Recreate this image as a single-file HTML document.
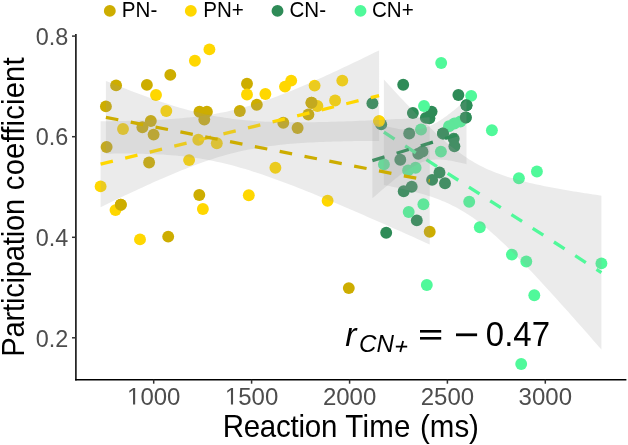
<!DOCTYPE html>
<html><head><meta charset="utf-8"><style>
html,body{margin:0;padding:0;background:#fff;}
body{width:628px;height:445px;overflow:hidden;position:relative;}
svg{position:absolute;left:0;top:0;will-change:transform;}
text{font-family:"Liberation Sans",sans-serif;}
</style></head><body>
<svg width="628" height="445" viewBox="0 0 628 445">
<rect width="628" height="445" fill="#fff"/>
<g>
<circle cx="116.1" cy="85.4" r="5.95" fill="#CDAD00"/>
<circle cx="146.9" cy="84.9" r="5.95" fill="#CDAD00"/>
<circle cx="170.3" cy="74.9" r="5.95" fill="#CDAD00"/>
<circle cx="105.9" cy="106.4" r="5.95" fill="#CDAD00"/>
<circle cx="199.5" cy="111.7" r="5.95" fill="#CDAD00"/>
<circle cx="206.9" cy="111.7" r="5.95" fill="#CDAD00"/>
<circle cx="204.3" cy="119.6" r="5.95" fill="#CDAD00"/>
<circle cx="150.8" cy="121.0" r="5.95" fill="#CDAD00"/>
<circle cx="142.4" cy="127.2" r="5.95" fill="#CDAD00"/>
<circle cx="153.6" cy="134.6" r="5.95" fill="#CDAD00"/>
<circle cx="106.6" cy="147.0" r="5.95" fill="#CDAD00"/>
<circle cx="149.1" cy="162.5" r="5.95" fill="#CDAD00"/>
<circle cx="199.3" cy="195.0" r="5.95" fill="#CDAD00"/>
<circle cx="120.8" cy="204.7" r="5.95" fill="#CDAD00"/>
<circle cx="168.2" cy="236.6" r="5.95" fill="#CDAD00"/>
<circle cx="247.0" cy="83.7" r="5.95" fill="#CDAD00"/>
<circle cx="239.8" cy="111.0" r="5.95" fill="#CDAD00"/>
<circle cx="256.8" cy="104.8" r="5.95" fill="#CDAD00"/>
<circle cx="311.5" cy="102.8" r="5.95" fill="#CDAD00"/>
<circle cx="308.4" cy="114.5" r="5.95" fill="#CDAD00"/>
<circle cx="283.3" cy="122.7" r="5.95" fill="#CDAD00"/>
<circle cx="297.6" cy="128.0" r="5.95" fill="#CDAD00"/>
<circle cx="348.8" cy="288.1" r="5.95" fill="#CDAD00"/>
<circle cx="429.7" cy="231.8" r="5.95" fill="#CDAD00"/>
<circle cx="209.4" cy="49.4" r="5.95" fill="#FFD700"/>
<circle cx="194.9" cy="60.8" r="5.95" fill="#FFD700"/>
<circle cx="156.0" cy="95.0" r="5.95" fill="#FFD700"/>
<circle cx="166.3" cy="111.0" r="5.95" fill="#FFD700"/>
<circle cx="123.0" cy="129.0" r="5.95" fill="#FFD700"/>
<circle cx="198.3" cy="139.8" r="5.95" fill="#FFD700"/>
<circle cx="216.8" cy="143.2" r="5.95" fill="#FFD700"/>
<circle cx="189.1" cy="160.1" r="5.95" fill="#FFD700"/>
<circle cx="100.6" cy="186.4" r="5.95" fill="#FFD700"/>
<circle cx="115.5" cy="210.1" r="5.95" fill="#FFD700"/>
<circle cx="202.9" cy="209.0" r="5.95" fill="#FFD700"/>
<circle cx="140.0" cy="239.4" r="5.95" fill="#FFD700"/>
<circle cx="247.0" cy="94.5" r="5.95" fill="#FFD700"/>
<circle cx="265.4" cy="94.0" r="5.95" fill="#FFD700"/>
<circle cx="291.2" cy="80.6" r="5.95" fill="#FFD700"/>
<circle cx="285.0" cy="86.6" r="5.95" fill="#FFD700"/>
<circle cx="314.6" cy="85.6" r="5.95" fill="#FFD700"/>
<circle cx="342.3" cy="80.6" r="5.95" fill="#FFD700"/>
<circle cx="317.4" cy="106.0" r="5.95" fill="#FFD700"/>
<circle cx="335.1" cy="100.5" r="5.95" fill="#FFD700"/>
<circle cx="275.4" cy="167.8" r="5.95" fill="#FFD700"/>
<circle cx="248.8" cy="195.3" r="5.95" fill="#FFD700"/>
<circle cx="327.6" cy="200.8" r="5.95" fill="#FFD700"/>
<circle cx="379.1" cy="121.1" r="5.95" fill="#FFD700"/>
<circle cx="403.2" cy="84.7" r="5.95" fill="#2E8B57"/>
<circle cx="458.4" cy="95.0" r="5.95" fill="#2E8B57"/>
<circle cx="372.4" cy="103.3" r="5.95" fill="#2E8B57"/>
<circle cx="466.5" cy="105.3" r="5.95" fill="#2E8B57"/>
<circle cx="412.9" cy="113.0" r="5.95" fill="#2E8B57"/>
<circle cx="425.8" cy="117.9" r="5.95" fill="#2E8B57"/>
<circle cx="429.4" cy="118.2" r="5.95" fill="#2E8B57"/>
<circle cx="431.6" cy="111.6" r="5.95" fill="#2E8B57"/>
<circle cx="465.8" cy="117.5" r="5.95" fill="#2E8B57"/>
<circle cx="381.2" cy="124.4" r="5.95" fill="#2E8B57"/>
<circle cx="409.2" cy="133.5" r="5.95" fill="#2E8B57"/>
<circle cx="443.0" cy="133.5" r="5.95" fill="#2E8B57"/>
<circle cx="453.7" cy="138.8" r="5.95" fill="#2E8B57"/>
<circle cx="454.4" cy="146.2" r="5.95" fill="#2E8B57"/>
<circle cx="422.5" cy="151.5" r="5.95" fill="#2E8B57"/>
<circle cx="418.3" cy="153.8" r="5.95" fill="#2E8B57"/>
<circle cx="400.3" cy="159.7" r="5.95" fill="#2E8B57"/>
<circle cx="439.5" cy="172.5" r="5.95" fill="#2E8B57"/>
<circle cx="432.1" cy="179.9" r="5.95" fill="#2E8B57"/>
<circle cx="445.0" cy="183.3" r="5.95" fill="#2E8B57"/>
<circle cx="411.7" cy="186.8" r="5.95" fill="#2E8B57"/>
<circle cx="403.7" cy="191.2" r="5.95" fill="#2E8B57"/>
<circle cx="416.8" cy="220.4" r="5.95" fill="#2E8B57"/>
<circle cx="386.2" cy="232.7" r="5.95" fill="#2E8B57"/>
<circle cx="441.2" cy="63.0" r="5.95" fill="#50F99A"/>
<circle cx="471.2" cy="95.9" r="5.95" fill="#50F99A"/>
<circle cx="424.0" cy="106.0" r="5.95" fill="#50F99A"/>
<circle cx="460.4" cy="121.5" r="5.95" fill="#50F99A"/>
<circle cx="454.4" cy="123.5" r="5.95" fill="#50F99A"/>
<circle cx="449.0" cy="126.2" r="5.95" fill="#50F99A"/>
<circle cx="421.0" cy="129.5" r="5.95" fill="#50F99A"/>
<circle cx="491.9" cy="130.3" r="5.95" fill="#50F99A"/>
<circle cx="440.9" cy="151.6" r="5.95" fill="#50F99A"/>
<circle cx="383.9" cy="164.4" r="5.95" fill="#50F99A"/>
<circle cx="415.6" cy="167.8" r="5.95" fill="#50F99A"/>
<circle cx="408.1" cy="170.4" r="5.95" fill="#50F99A"/>
<circle cx="536.9" cy="171.5" r="5.95" fill="#50F99A"/>
<circle cx="518.9" cy="178.2" r="5.95" fill="#50F99A"/>
<circle cx="469.2" cy="201.8" r="5.95" fill="#50F99A"/>
<circle cx="423.4" cy="204.3" r="5.95" fill="#50F99A"/>
<circle cx="408.7" cy="212.0" r="5.95" fill="#50F99A"/>
<circle cx="479.8" cy="227.2" r="5.95" fill="#50F99A"/>
<circle cx="511.9" cy="254.6" r="5.95" fill="#50F99A"/>
<circle cx="526.3" cy="261.5" r="5.95" fill="#50F99A"/>
<circle cx="601.4" cy="263.4" r="5.95" fill="#50F99A"/>
<circle cx="534.3" cy="295.3" r="5.95" fill="#50F99A"/>
<circle cx="521.2" cy="364.0" r="5.95" fill="#50F99A"/>
<circle cx="426.8" cy="285.0" r="5.95" fill="#50F99A"/>
<circle cx="120.8" cy="204.7" r="5.95" fill="#CDAD00"/>
<circle cx="311.5" cy="102.8" r="5.95" fill="#CDAD00"/>
<circle cx="379.1" cy="121.1" r="5.95" fill="#FFD700"/>
<circle cx="466.5" cy="105.3" r="5.95" fill="#2E8B57"/>
<circle cx="465.8" cy="117.5" r="5.95" fill="#2E8B57"/>
<circle cx="443.0" cy="133.5" r="5.95" fill="#2E8B57"/>
</g>
<g>
<polygon points="383.90,79.45 386.65,82.48 389.41,85.49 392.16,88.48 394.91,91.47 397.67,94.43 400.42,97.38 403.17,100.32 405.93,103.23 408.68,106.12 411.43,108.99 414.18,111.84 416.94,114.65 419.69,117.44 422.44,120.20 425.20,122.93 427.95,125.61 430.70,128.26 433.46,130.87 436.21,133.43 438.96,135.94 441.72,138.40 444.47,140.80 447.22,143.14 449.98,145.42 452.73,147.64 455.48,149.78 458.24,151.85 460.99,153.85 463.74,155.77 466.49,157.62 469.25,159.39 472.00,161.08 474.75,162.69 477.51,164.23 480.26,165.69 483.01,167.08 485.77,168.40 488.52,169.66 491.27,170.86 494.03,171.99 496.78,173.08 499.53,174.11 502.29,175.09 505.04,176.02 507.79,176.92 510.55,177.78 513.30,178.60 516.05,179.39 518.81,180.14 521.56,180.87 524.31,181.58 527.06,182.25 529.82,182.91 532.57,183.55 535.32,184.16 538.08,184.76 540.83,185.35 543.58,185.91 546.34,186.47 549.09,187.01 551.84,187.54 554.60,188.06 557.35,188.56 560.10,189.06 562.86,189.55 565.61,190.03 568.36,190.50 571.12,190.96 573.87,191.42 576.62,191.87 579.37,192.31 582.13,192.75 584.88,193.18 587.63,193.61 590.39,194.03 593.14,194.45 595.89,194.86 598.65,195.27 601.40,195.67 601.40,349.58 598.65,346.43 595.89,343.28 593.14,340.14 590.39,337.00 587.63,333.87 584.88,330.74 582.13,327.62 579.37,324.51 576.62,321.39 573.87,318.29 571.12,315.19 568.36,312.10 565.61,309.02 562.86,305.94 560.10,302.88 557.35,299.82 554.60,296.77 551.84,293.73 549.09,290.71 546.34,287.70 543.58,284.70 540.83,281.71 538.08,278.74 535.32,275.78 532.57,272.85 529.82,269.93 527.06,267.03 524.31,264.15 521.56,261.30 518.81,258.48 516.05,255.68 513.30,252.92 510.55,250.18 507.79,247.48 505.04,244.83 502.29,242.21 499.53,239.64 496.78,237.11 494.03,234.64 491.27,232.22 488.52,229.86 485.77,227.57 483.01,225.33 480.26,223.17 477.51,221.08 474.75,219.06 472.00,217.12 469.25,215.26 466.49,213.47 463.74,211.76 460.99,210.13 458.24,208.57 455.48,207.09 452.73,205.68 449.98,204.34 447.22,203.07 444.47,201.85 441.72,200.70 438.96,199.61 436.21,198.56 433.46,197.57 430.70,196.62 427.95,195.72 425.20,194.85 422.44,194.02 419.69,193.22 416.94,192.46 414.18,191.72 411.43,191.01 408.68,190.33 405.93,189.66 403.17,189.02 400.42,188.40 397.67,187.80 394.91,187.21 392.16,186.64 389.41,186.08 386.65,185.54 383.90,185.01" fill="#999999" fill-opacity="0.2"/>
<line x1="383.90" y1="132.23" x2="601.40" y2="272.63" stroke="#50F99A" stroke-width="3.3" stroke-dasharray="12.65 12.65" stroke-linecap="butt"/>
<polygon points="372.40,122.80 373.59,123.14 374.78,123.47 375.97,123.79 377.16,124.12 378.36,124.44 379.55,124.75 380.74,125.06 381.93,125.37 383.12,125.67 384.31,125.97 385.50,126.26 386.69,126.54 387.88,126.82 389.08,127.09 390.27,127.35 391.46,127.61 392.65,127.86 393.84,128.09 395.03,128.32 396.22,128.54 397.41,128.75 398.61,128.94 399.80,129.13 400.99,129.30 402.18,129.45 403.37,129.59 404.56,129.71 405.75,129.82 406.94,129.90 408.13,129.97 409.33,130.01 410.52,130.03 411.71,130.02 412.90,129.99 414.09,129.93 415.28,129.85 416.47,129.73 417.66,129.58 418.85,129.39 420.05,129.18 421.24,128.93 422.43,128.64 423.62,128.32 424.81,127.96 426.00,127.56 427.19,127.13 428.38,126.66 429.57,126.16 430.77,125.62 431.96,125.05 433.15,124.45 434.34,123.82 435.53,123.16 436.72,122.47 437.91,121.76 439.10,121.02 440.29,120.25 441.49,119.47 442.68,118.66 443.87,117.84 445.06,116.99 446.25,116.13 447.44,115.25 448.63,114.36 449.82,113.46 451.02,112.54 452.21,111.61 453.40,110.67 454.59,109.72 455.78,108.75 456.97,107.78 458.16,106.80 459.35,105.82 460.54,104.82 461.74,103.82 462.93,102.81 464.12,101.80 465.31,100.78 466.50,99.76 466.50,164.14 465.31,163.84 464.12,163.54 462.93,163.25 461.74,162.97 460.54,162.69 459.35,162.42 458.16,162.16 456.97,161.91 455.78,161.66 454.59,161.42 453.40,161.20 452.21,160.98 451.02,160.77 449.82,160.58 448.63,160.40 447.44,160.23 446.25,160.08 445.06,159.95 443.87,159.83 442.68,159.73 441.49,159.64 440.29,159.58 439.10,159.54 437.91,159.53 436.72,159.54 435.53,159.57 434.34,159.64 433.15,159.73 431.96,159.85 430.77,160.01 429.57,160.20 428.38,160.42 427.19,160.68 426.00,160.97 424.81,161.30 423.62,161.67 422.43,162.07 421.24,162.51 420.05,162.98 418.85,163.49 417.66,164.03 416.47,164.60 415.28,165.21 414.09,165.85 412.90,166.51 411.71,167.21 410.52,167.93 409.33,168.67 408.13,169.44 406.94,170.23 405.75,171.04 404.56,171.87 403.37,172.71 402.18,173.58 400.99,174.46 399.80,175.35 398.61,176.26 397.41,177.18 396.22,178.11 395.03,179.05 393.84,180.01 392.65,180.97 391.46,181.94 390.27,182.92 389.08,183.91 387.88,184.91 386.69,185.91 385.50,186.92 384.31,187.93 383.12,188.95 381.93,189.98 380.74,191.01 379.55,192.05 378.36,193.09 377.16,194.13 375.97,195.18 374.78,196.23 373.59,197.28 372.40,198.34" fill="#999999" fill-opacity="0.2"/>
<line x1="372.40" y1="160.57" x2="466.50" y2="131.95" stroke="#2E8B57" stroke-width="3.3" stroke-dasharray="12.65 12.65" stroke-linecap="butt"/>
<polygon points="100.60,121.26 104.13,121.23 107.65,121.20 111.18,121.16 114.70,121.12 118.23,121.06 121.75,121.00 125.28,120.94 128.80,120.86 132.33,120.78 135.85,120.68 139.38,120.58 142.90,120.46 146.43,120.33 149.95,120.19 153.48,120.04 157.01,119.87 160.53,119.69 164.06,119.49 167.58,119.27 171.11,119.03 174.63,118.77 178.16,118.49 181.68,118.19 185.21,117.86 188.73,117.51 192.26,117.13 195.78,116.71 199.31,116.27 202.83,115.80 206.36,115.28 209.88,114.74 213.41,114.15 216.94,113.52 220.46,112.86 223.99,112.15 227.51,111.40 231.04,110.60 234.56,109.76 238.09,108.88 241.61,107.95 245.14,106.98 248.66,105.96 252.19,104.91 255.71,103.81 259.24,102.67 262.76,101.49 266.29,100.28 269.82,99.03 273.34,97.75 276.87,96.43 280.39,95.09 283.92,93.71 287.44,92.31 290.97,90.89 294.49,89.44 298.02,87.97 301.54,86.47 305.07,84.96 308.59,83.43 312.12,81.88 315.64,80.32 319.17,78.74 322.69,77.15 326.22,75.55 329.75,73.93 333.27,72.30 336.80,70.66 340.32,69.02 343.85,67.36 347.37,65.69 350.90,64.02 354.42,62.34 357.95,60.65 361.47,58.95 365.00,57.25 368.52,55.54 372.05,53.83 375.57,52.11 379.10,50.38 379.10,140.92 375.57,140.93 372.05,140.95 368.52,140.97 365.00,141.00 361.47,141.03 357.95,141.07 354.42,141.12 350.90,141.17 347.37,141.23 343.85,141.30 340.32,141.38 336.80,141.47 333.27,141.56 329.75,141.67 326.22,141.79 322.69,141.92 319.17,142.07 315.64,142.22 312.12,142.40 308.59,142.59 305.07,142.79 301.54,143.01 298.02,143.26 294.49,143.52 290.97,143.81 287.44,144.12 283.92,144.45 280.39,144.82 276.87,145.21 273.34,145.63 269.82,146.08 266.29,146.57 262.76,147.09 259.24,147.65 255.71,148.24 252.19,148.88 248.66,149.56 245.14,150.28 241.61,151.04 238.09,151.85 234.56,152.70 231.04,153.60 227.51,154.54 223.99,155.53 220.46,156.55 216.94,157.62 213.41,158.73 209.88,159.88 206.36,161.07 202.83,162.29 199.31,163.55 195.78,164.85 192.26,166.17 188.73,167.52 185.21,168.91 181.68,170.31 178.16,171.75 174.63,173.20 171.11,174.68 167.58,176.18 164.06,177.70 160.53,179.23 157.01,180.78 153.48,182.35 149.95,183.93 146.43,185.53 142.90,187.14 139.38,188.76 135.85,190.39 132.33,192.03 128.80,193.68 125.28,195.34 121.75,197.01 118.23,198.68 114.70,200.37 111.18,202.06 107.65,203.76 104.13,205.46 100.60,207.17" fill="#999999" fill-opacity="0.2"/>
<line x1="100.60" y1="164.21" x2="379.10" y2="95.65" stroke="#FFD700" stroke-width="3.3" stroke-dasharray="12.65 12.65" stroke-linecap="butt"/>
<polygon points="105.90,80.89 110.00,82.57 114.10,84.22 118.20,85.87 122.29,87.49 126.39,89.10 130.49,90.69 134.59,92.26 138.69,93.81 142.79,95.33 146.89,96.83 150.99,98.30 155.08,99.74 159.18,101.15 163.28,102.53 167.38,103.87 171.48,105.17 175.58,106.44 179.68,107.66 183.78,108.83 187.87,109.96 191.97,111.04 196.07,112.06 200.17,113.04 204.27,113.96 208.37,114.83 212.47,115.64 216.57,116.40 220.66,117.10 224.76,117.75 228.86,118.35 232.96,118.89 237.06,119.39 241.16,119.84 245.26,120.24 249.36,120.60 253.45,120.91 257.55,121.19 261.65,121.44 265.75,121.64 269.85,121.82 273.95,121.97 278.05,122.09 282.15,122.18 286.24,122.25 290.34,122.29 294.44,122.32 298.54,122.33 302.64,122.31 306.74,122.29 310.84,122.24 314.94,122.18 319.03,122.11 323.13,122.03 327.23,121.93 331.33,121.83 335.43,121.71 339.53,121.58 343.63,121.45 347.73,121.31 351.82,121.16 355.92,121.00 360.02,120.83 364.12,120.66 368.22,120.48 372.32,120.30 376.42,120.11 380.52,119.92 384.61,119.72 388.71,119.52 392.81,119.32 396.91,119.11 401.01,118.89 405.11,118.67 409.21,118.45 413.31,118.23 417.40,118.00 421.50,117.77 425.60,117.54 429.70,117.31 429.70,244.48 425.60,242.63 421.50,240.79 417.40,238.95 413.31,237.12 409.21,235.28 405.11,233.45 401.01,231.62 396.91,229.80 392.81,227.98 388.71,226.16 384.61,224.35 380.52,222.55 376.42,220.74 372.32,218.95 368.22,217.15 364.12,215.37 360.02,213.59 355.92,211.81 351.82,210.04 347.73,208.28 343.63,206.53 339.53,204.79 335.43,203.05 331.33,201.32 327.23,199.61 323.13,197.90 319.03,196.21 314.94,194.53 310.84,192.86 306.74,191.21 302.64,189.57 298.54,187.95 294.44,186.34 290.34,184.76 286.24,183.19 282.15,181.65 278.05,180.14 273.95,178.65 269.85,177.18 265.75,175.75 261.65,174.35 257.55,172.98 253.45,171.65 249.36,170.36 245.26,169.11 241.16,167.90 237.06,166.74 232.96,165.62 228.86,164.56 224.76,163.55 220.66,162.59 216.57,161.68 212.47,160.83 208.37,160.03 204.27,159.29 200.17,158.60 196.07,157.96 191.97,157.38 187.87,156.85 183.78,156.37 179.68,155.93 175.58,155.54 171.48,155.20 167.38,154.89 163.28,154.62 159.18,154.39 155.08,154.19 150.99,154.02 146.89,153.88 142.79,153.77 138.69,153.68 134.59,153.62 130.49,153.58 126.39,153.56 122.29,153.56 118.20,153.58 114.10,153.61 110.00,153.66 105.90,153.72" fill="#999999" fill-opacity="0.2"/>
<line x1="105.90" y1="117.31" x2="429.70" y2="180.89" stroke="#CDAD00" stroke-width="3.3" stroke-dasharray="12.65 12.65" stroke-linecap="butt"/>
</g>
<!-- axes -->
<line x1="75.9" y1="34" x2="75.9" y2="380.4" stroke="#000" stroke-width="1.5"/>
<line x1="75.2" y1="379.7" x2="626.4" y2="379.7" stroke="#000" stroke-width="1.5"/>
<g stroke="#333" stroke-width="1.5">
<line x1="72" y1="36.1" x2="75.9" y2="36.1"/>
<line x1="72" y1="136.7" x2="75.9" y2="136.7"/>
<line x1="72" y1="237.3" x2="75.9" y2="237.3"/>
<line x1="72" y1="337.8" x2="75.9" y2="337.8"/>
<line x1="153.7" y1="379.7" x2="153.7" y2="383.7"/>
<line x1="251.6" y1="379.7" x2="251.6" y2="383.7"/>
<line x1="349.6" y1="379.7" x2="349.6" y2="383.7"/>
<line x1="447.4" y1="379.7" x2="447.4" y2="383.7"/>
<line x1="545.3" y1="379.7" x2="545.3" y2="383.7"/>
</g>
<g fill="#4D4D4D" font-size="24" text-anchor="end">
<text transform="translate(68.3,44.8) scale(0.975,1.01)">0.8</text>
<text transform="translate(68.3,145.4) scale(0.975,1.01)">0.6</text>
<text transform="translate(68.3,246) scale(0.975,1.01)">0.4</text>
<text transform="translate(68.3,346.5) scale(0.975,1.01)">0.2</text>
</g>
<g fill="#4D4D4D" font-size="24" text-anchor="middle">
<text x="160.4" y="404.5">000</text>
<text x="258.3" y="404.5">500</text>
<text x="349.6" y="404.5">2000</text>
<text x="447.4" y="404.5">2500</text>
<text x="545.3" y="404.5">3000</text>
</g>
<path transform="translate(127.00,404.5) scale(0.011719,-0.011719)" d="M515,0 L515,1237 L197,1010 L197,1180 L530,1409 L696,1409 L696,0 Z" fill="#4D4D4D"/>
<path transform="translate(224.90,404.5) scale(0.011719,-0.011719)" d="M515,0 L515,1237 L197,1010 L197,1180 L530,1409 L696,1409 L696,0 Z" fill="#4D4D4D"/>
<g fill="#000"><text transform="translate(222.68,436.5) scale(1,1.06)" font-size="29.5" textLength="114.64" lengthAdjust="spacing">Reaction</text><text transform="translate(345.24,436.5) scale(1,1.06)" font-size="29.5" textLength="65.27" lengthAdjust="spacing">Time</text><text transform="translate(420.07,436.5) scale(1,1.06)" font-size="29.5" textLength="58.86" lengthAdjust="spacing">(ms)</text></g>
<g fill="#000"><text transform="translate(23.8,356.80) rotate(-90) scale(1,1.06)" font-size="29.2" textLength="158.09" lengthAdjust="spacing">Participation</text><text transform="translate(23.8,190.14) rotate(-90) scale(1,1.06)" font-size="29.2" textLength="132.75" lengthAdjust="spacing">coefficient</text></g>
<!-- legend -->
<circle cx="109.8" cy="10.9" r="5.95" fill="#CDAD00"/>
<circle cx="190.8" cy="10.9" r="5.95" fill="#FFD700"/>
<circle cx="277.5" cy="10.9" r="5.95" fill="#2E8B57"/>
<circle cx="360.5" cy="10.9" r="5.95" fill="#50F99A"/>
<g font-size="20.6" fill="#000">
<text transform="translate(121.8,16.7) scale(1,1.035)">PN-</text>
<text transform="translate(203.2,16.7) scale(1,1.035)">PN+</text>
<text transform="translate(289.4,16.7) scale(1,1.035)">CN-</text>
<text transform="translate(371.9,16.7) scale(1,1.035)">CN+</text>
</g>
<!-- annotation -->
<text transform="translate(345.3,345.7) scale(1,0.97)" font-size="33.5" font-style="italic" fill="#000">r</text>
<text transform="translate(359,351.8) scale(1,1.0)" font-size="24.2" font-style="italic" fill="#000">CN</text>
<g stroke="#000" stroke-width="1.8" stroke-linecap="butt"><line x1="395.8" y1="346.6" x2="407.2" y2="346.6"/><line x1="403.15" y1="341" x2="400.25" y2="352.1"/></g>
<rect x="420" y="330" width="21.2" height="2.6" fill="#000"/>
<rect x="420" y="337" width="21.2" height="2.6" fill="#000"/>
<rect x="456" y="333.4" width="21.1" height="2.8" fill="#000"/>
<text transform="translate(485.8,346.2) scale(1,1.08)" font-size="33" fill="#000">0.47</text>
</svg>
</body></html>
